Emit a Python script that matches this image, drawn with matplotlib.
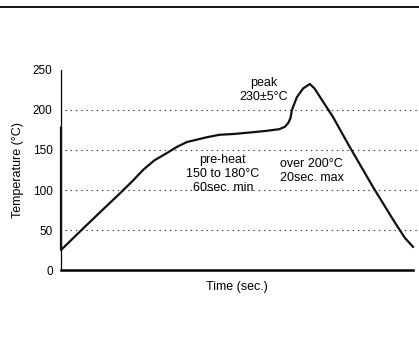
import matplotlib
matplotlib.use("Agg")
import matplotlib.pyplot as plt
from matplotlib.lines import Line2D

# reflow profile (time in arbitrary units 0-100)
time_vals = [0, 0, 6.3, 12, 16.8, 20.5, 23.3, 26.5, 30, 33, 35.8, 41.5, 45, 49, 54,
             58.5, 62, 63.6, 64.6, 65.2, 65.6, 67, 68.8, 70.7, 72, 74.5, 77.3, 82,
             88.6, 94.4, 97.7, 100]
temp_vals = [178, 25, 52, 76, 96, 112, 125, 137, 146, 154, 160, 166, 169, 170, 172,
             174, 176, 179, 184, 190, 200, 216, 227, 232.5, 227, 210, 191, 154,
             104, 62.5, 40, 29]
y_ticks = [0, 50, 100, 150, 200, 250]
grid_levels = [50, 100, 150, 200]

plt.rcParams['font.family'] = ['Liberation Sans', 'DejaVu Sans']

fig = plt.figure(figsize=(4.19, 3.48), dpi=100)
ax = fig.add_axes([0.1456, 0.2241, 0.8401, 0.5748])

for lvl in grid_levels:
    ax.axhline(lvl, xmin=0.012, xmax=1.02, color="#333333", lw=0.8,
               linestyle=(0, (1.2, 3.5)), clip_on=False, zorder=1)

ax.plot(time_vals, temp_vals, color="#111111", lw=1.6, zorder=3,
        solid_joinstyle="round", clip_on=False)

ax.set_xlim(0, 100)
ax.set_ylim(0, 250)
ax.set_yticks(y_ticks)
ax.set_xticks([])
ax.tick_params(axis="y", length=0, pad=6, labelsize=8.5)
for s in ["top", "right"]:
    ax.spines[s].set_visible(False)
ax.spines["left"].set_linewidth(0.9)
ax.spines["bottom"].set_linewidth(1.8)

ax.set_ylabel("Temperature (°C)", fontsize=9, labelpad=6)
ax.set_xlabel("Time (sec.)", fontsize=9, labelpad=8)

ax.text(57.5, 225, "peak\n230±5°C", ha="center", va="center", fontsize=9,
        linespacing=1.15)
ax.text(46, 120, "pre-heat\n150 to 180°C\n60sec. min", ha="center", va="center",
        fontsize=9, linespacing=1.2)
ax.text(62.2, 124, "over 200°C\n20sec. max", ha="left", va="center", fontsize=9,
        linespacing=1.2)

fig.add_artist(Line2D([0, 1], [0.979, 0.979], transform=fig.transFigure,
                      color="#111111", lw=1.4))

fig.savefig("out.png", dpi=100)
